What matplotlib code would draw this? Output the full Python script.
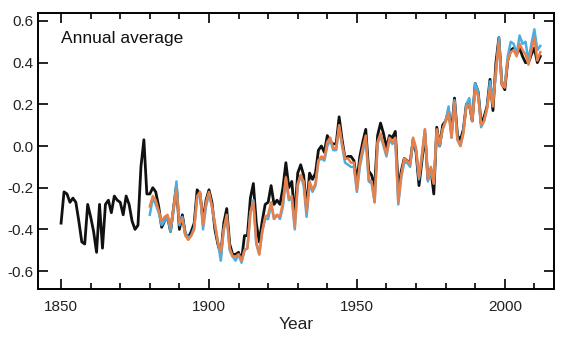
import matplotlib
matplotlib.use("Agg")
import matplotlib.pyplot as plt
from matplotlib.ticker import MultipleLocator

plt.rcParams['font.family'] = ['Liberation Sans', 'DejaVu Sans']

# black series, 1850-2012
years_black = list(range(1850, 2013))
black = [-0.37, -0.22, -0.23, -0.27, -0.25, -0.27, -0.36, -0.46, -0.47, -0.28,
         -0.34, -0.41, -0.51, -0.28, -0.49, -0.28, -0.26, -0.32, -0.24, -0.26,
         -0.27, -0.33, -0.24, -0.28, -0.36, -0.40, -0.38, -0.10, 0.03, -0.23,
         -0.23, -0.20, -0.22, -0.29, -0.39, -0.36, -0.34, -0.41, -0.30, -0.19,
         -0.40, -0.33, -0.42, -0.44, -0.41, -0.37, -0.21, -0.23, -0.36, -0.26,
         -0.21, -0.27, -0.40, -0.47, -0.52, -0.37, -0.30, -0.47, -0.52, -0.52,
         -0.51, -0.55, -0.43, -0.43, -0.25, -0.18, -0.37, -0.46, -0.36, -0.28,
         -0.27, -0.19, -0.28, -0.26, -0.28, -0.20, -0.08, -0.20, -0.17, -0.34,
         -0.13, -0.09, -0.14, -0.30, -0.13, -0.16, -0.13, -0.02, 0.00, -0.03,
         0.05, 0.02, 0.01, 0.01, 0.14, 0.03, -0.06, -0.05, -0.05, -0.07,
         -0.17, -0.05, 0.02, 0.08, -0.12, -0.14, -0.20, 0.05, 0.11, 0.06,
         -0.01, 0.05, 0.04, 0.07, -0.21, -0.12, -0.06, -0.07, -0.08, 0.03,
         -0.03, -0.19, -0.07, 0.06, -0.16, -0.11, -0.23, 0.09, 0.00, 0.10,
         0.12, 0.17, 0.07, 0.23, 0.05, 0.03, 0.08, 0.20, 0.20, 0.12,
         0.30, 0.26, 0.11, 0.14, 0.19, 0.32, 0.17, 0.40, 0.52, 0.30,
         0.27, 0.41, 0.46, 0.47, 0.44, 0.47, 0.43, 0.40, 0.40, 0.44,
         0.47, 0.40, 0.43]

# orange and blue series, 1880-2012
years_other = list(range(1880, 2013))
orange = [-0.29, -0.24, -0.26, -0.31, -0.36, -0.34, -0.33, -0.39, -0.30, -0.21,
          -0.37, -0.35, -0.43, -0.45, -0.43, -0.40, -0.24, -0.22, -0.38, -0.27,
          -0.22, -0.29, -0.37, -0.46, -0.51, -0.40, -0.33, -0.49, -0.53, -0.53,
          -0.52, -0.55, -0.50, -0.49, -0.32, -0.27, -0.46, -0.52, -0.41, -0.34,
          -0.33, -0.27, -0.35, -0.33, -0.34, -0.27, -0.15, -0.25, -0.24, -0.39,
          -0.18, -0.14, -0.17, -0.32, -0.17, -0.21, -0.18, -0.07, -0.05, -0.06,
          0.02, 0.04, -0.01, -0.01, 0.10, 0.01, -0.06, -0.06, -0.08, -0.08,
          -0.21, -0.08, -0.01, 0.05, -0.16, -0.17, -0.27, 0.02, 0.06, 0.01,
          -0.04, 0.04, 0.02, 0.04, -0.27, -0.14, -0.06, -0.07, -0.09, 0.04,
          -0.01, -0.15, -0.04, 0.08, -0.16, -0.10, -0.18, 0.08, 0.01, 0.08,
          0.12, 0.16, 0.04, 0.21, 0.03, 0.00, 0.06, 0.19, 0.20, 0.12,
          0.27, 0.24, 0.10, 0.12, 0.18, 0.28, 0.19, 0.37, 0.50, 0.29,
          0.28, 0.41, 0.45, 0.46, 0.43, 0.49, 0.46, 0.44, 0.39, 0.46,
          0.52, 0.41, 0.45]
blue = [-0.33, -0.25, -0.28, -0.32, -0.38, -0.36, -0.34, -0.41, -0.31, -0.17,
        -0.38, -0.34, -0.42, -0.44, -0.43, -0.39, -0.25, -0.23, -0.40, -0.29,
        -0.23, -0.29, -0.38, -0.46, -0.55, -0.40, -0.34, -0.50, -0.53, -0.55,
        -0.52, -0.56, -0.50, -0.49, -0.32, -0.26, -0.47, -0.52, -0.41, -0.35,
        -0.35, -0.28, -0.35, -0.33, -0.35, -0.29, -0.16, -0.26, -0.25, -0.40,
        -0.19, -0.14, -0.19, -0.34, -0.18, -0.22, -0.19, -0.07, -0.06, -0.07,
        0.00, 0.03, -0.02, -0.02, 0.09, 0.00, -0.08, -0.09, -0.10, -0.10,
        -0.22, -0.10, -0.03, 0.04, -0.17, -0.18, -0.27, 0.01, 0.05, 0.00,
        -0.05, 0.03, 0.01, 0.03, -0.28, -0.15, -0.08, -0.08, -0.10, 0.03,
        -0.02, -0.16, -0.05, 0.08, -0.17, -0.12, -0.18, 0.07, 0.00, 0.08,
        0.12, 0.19, 0.04, 0.22, 0.03, 0.00, 0.07, 0.20, 0.23, 0.13,
        0.30, 0.26, 0.09, 0.12, 0.18, 0.31, 0.22, 0.34, 0.52, 0.31,
        0.29, 0.43, 0.50, 0.49, 0.44, 0.53, 0.49, 0.50, 0.41, 0.49,
        0.56, 0.46, 0.48]

fig = plt.figure(figsize=(5.8, 3.37), dpi=100)
ax = fig.add_axes([0.0655, 0.1424, 0.8895, 0.819])

ax.plot(years_black, black, color='#111111', lw=2.0)
ax.plot(years_other, blue, color='#4aaee3', lw=1.8)
ax.plot(years_other, orange, color='#e8804a', lw=1.8)

ax.set_xlim(1842.2, 2016.6)
ax.set_ylim(-0.686, 0.638)

ax.xaxis.set_major_locator(MultipleLocator(50))
ax.xaxis.set_minor_locator(MultipleLocator(10))
ax.yaxis.set_major_locator(MultipleLocator(0.2))
ax.yaxis.set_major_formatter(matplotlib.ticker.FormatStrFormatter('%.1f'))

ax.tick_params(axis='both', which='major', direction='in', length=7, width=1.2,
               labelsize=11, labelcolor='#222222', top=True, right=True)
ax.tick_params(axis='x', which='minor', direction='in', length=4, width=1.2,
               top=True, bottom=True)
ax.tick_params(axis='x', which='major', pad=8)
ax.tick_params(axis='y', which='major', pad=3)

for s in ax.spines.values():
    s.set_linewidth(1.4)

ax.set_xlabel('Year', fontsize=12.5, color='#222222', labelpad=2)
ax.text(0.045, 0.89, 'Annual average', transform=ax.transAxes,
        fontsize=12.5, color='#111111')

fig.savefig('out.png', dpi=100)
